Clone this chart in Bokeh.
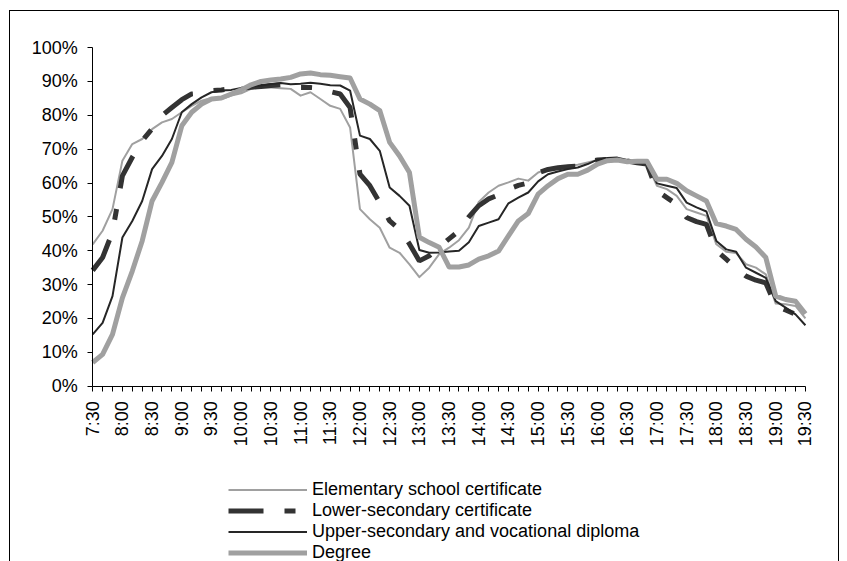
import math
from bokeh.plotting import figure
from bokeh.models import FixedTicker, PrintfTickFormatter, Legend, LegendItem, Range1d
from bokeh.embed import file_html
from bokeh.resources import INLINE

# time slots every 10 minutes from 7:30 to 19:30
slots = [f"{7 + (30 + 10 * i) // 60}:{(30 + 10 * i) % 60:02d}" for i in range(73)]
tick_labels = ["7:30", "8:00", "8:30", "9:00", "9:30", "10:00", "10:30", "11:00", "11:30",
               "12:00", "12:30", "13:00", "13:30", "14:00", "14:30", "15:00", "15:30",
               "16:00", "16:30", "17:00", "17:30", "18:00", "18:30", "19:00", "19:30"]

elementary = [41.9, 45.9, 52.3, 66.6, 71.5, 73.0, 75.9, 77.9, 78.9, 80.9, 82.8, 84.3, 85.1, 84.8,
              85.8, 86.5, 87.8, 88.3, 88.2, 88.0, 87.8, 85.8, 86.8, 84.8, 82.8, 81.9, 76.4, 52.3,
              49.3, 46.8, 40.9, 39.4, 36.0, 32.2, 35.0, 39.0, 40.9, 43.1, 46.8, 54.4, 57.2, 59.2,
              60.2, 61.3, 60.7, 63.1, 64.1, 64.6, 65.1, 65.4, 66.1, 66.8, 67.3, 67.3, 66.4, 66.0,
              65.6, 59.2, 58.2, 56.2, 52.3, 51.3, 50.3, 41.9, 39.7, 39.3, 36.0, 35.0, 33.0, 24.4,
              24.2, 23.7, 20.0]
lower_secondary = [34.2, 38.0, 45.5, 62.1, 67.6, 72.5, 76.0, 79.9, 82.3, 84.6, 86.3, 86.5, 87.3,
                   87.5, 87.8, 88.0, 88.3, 88.5, 88.8, 89.0, 88.8, 88.2, 88.2, 88.0, 87.0, 86.3,
                   82.3, 62.6, 59.2, 54.2, 48.8, 46.3, 42.0, 37.0, 38.5, 41.0, 43.5, 45.9, 50.0,
                   53.3, 55.3, 56.5, 58.2, 59.3, 60.0, 63.0, 64.0, 64.5, 64.8, 65.0, 66.3, 66.8,
                   67.0, 67.0, 66.5, 66.0, 65.6, 57.7, 55.7, 53.7, 49.8, 48.6, 47.8, 40.1, 37.5,
                   34.8, 32.5, 31.3, 30.5, 23.7, 22.5, 21.2, 18.0]
upper_secondary = [15.3, 18.7, 26.6, 43.9, 48.8, 54.7, 64.1, 68.0, 73.0, 80.9, 83.3, 85.3, 86.8,
                   87.3, 87.5, 88.1, 88.5, 88.8, 89.2, 89.5, 89.2, 89.3, 89.6, 89.3, 88.9, 88.8,
                   87.3, 74.0, 73.0, 69.5, 58.7, 56.2, 53.3, 40.2, 39.4, 39.5, 39.8, 40.0, 42.5,
                   47.3, 48.3, 49.3, 54.0, 55.7, 57.2, 60.5, 62.6, 63.4, 64.1, 64.6, 65.6, 66.9,
                   67.4, 67.5, 66.8, 66.2, 65.8, 59.9, 59.2, 58.5, 54.2, 52.8, 51.6, 42.9, 40.4,
                   39.7, 35.0, 33.5, 32.0, 25.1, 23.2, 21.2, 18.0]
degree = [7.0, 9.4, 15.3, 26.1, 34.0, 42.9, 54.7, 60.2, 66.1, 76.9, 80.9, 83.3, 84.8, 85.1, 86.3,
          87.5, 89.0, 90.0, 90.4, 90.7, 91.2, 92.2, 92.5, 92.0, 91.8, 91.4, 91.0, 84.8, 83.3, 81.4,
          72.0, 68.0, 63.1, 44.0, 42.4, 41.0, 35.2, 35.2, 35.8, 37.5, 38.5, 39.9, 44.4, 48.8, 51.0,
          56.7, 59.2, 61.3, 62.6, 62.6, 63.8, 65.6, 66.6, 66.8, 66.3, 66.4, 66.4, 61.1, 61.1, 59.9,
          57.7, 56.2, 54.7, 48.0, 47.3, 46.3, 43.4, 41.1, 38.0, 26.6, 25.6, 25.1, 21.4]

names = ["Elementary school certificate", "Lower-secondary certificate",
         "Upper-secondary and vocational diploma", "Degree"]

x = list(range(len(slots)))
FONT = "Liberation Sans"

# the frame covers the whole canvas; both axes are pinned at 0
p = figure(width=830, height=551, output_backend="svg", toolbar_location=None,
           x_range=Range1d(-8.304, 75.544), y_range=Range1d(-52.07, 110.65),
           min_border_left=0, min_border_right=0, min_border_top=0, min_border_bottom=0,
           styles={"margin-left": "9px", "margin-top": "10px",
                   "border-top": "1px solid black", "border-left": "1px solid black",
                   "border-right": "1px solid black"})
p.outline_line_color = None
p.xgrid.visible = False
p.ygrid.visible = False
p.background_fill_color = "white"
p.border_fill_color = "white"

r1 = p.line(x, elementary, line_color="#a0a0a0", line_width=2, line_join="round")
r2 = p.line(x, lower_secondary, line_color="#333333", line_width=5, line_dash="35 21 11 21")
r3 = p.line(x, upper_secondary, line_color="#262626", line_width=2, line_join="round")
r4 = p.line(x, degree, line_color="#a0a0a0", line_width=5, line_join="round")

# x axis
p.xaxis.fixed_location = 0
p.xaxis.bounds = (0, len(slots) - 1)
p.xaxis.ticker = FixedTicker(ticks=x)
overrides = {}
for i in x:
    overrides[i] = tick_labels[i // 3] if i % 3 == 0 else ""
p.xaxis.major_label_overrides = overrides
p.xaxis.major_label_orientation = math.pi / 2
p.xaxis.minor_tick_line_color = None
p.xaxis.major_tick_in = 0
p.xaxis.major_tick_out = 5
p.xaxis.major_label_standoff = 10
p.xaxis.axis_line_color = "black"
p.xaxis.major_tick_line_color = "black"

# y axis
p.yaxis.fixed_location = 0
p.yaxis.bounds = (0, 100)
p.yaxis.ticker = FixedTicker(ticks=list(range(0, 101, 10)))
p.yaxis.formatter = PrintfTickFormatter(format="%d%%")
p.yaxis.minor_tick_line_color = None
p.yaxis.major_tick_in = 0
p.yaxis.major_tick_out = 5
p.yaxis.major_label_standoff = 10
p.yaxis.axis_line_color = "black"
p.yaxis.major_tick_line_color = "black"

for ax in (p.xaxis, p.yaxis):
    ax.major_label_text_font = FONT
    ax.major_label_text_font_size = "18px"
    ax.major_label_text_color = "black"

legend = Legend(items=[LegendItem(label=n, renderers=[r]) for n, r in zip(names, [r1, r2, r3, r4])],
                location=(218, -1), padding=0, margin=0, spacing=0,
                glyph_width=79, glyph_height=19, label_height=19, label_standoff=5,
                label_text_font=FONT, label_text_font_size="18px", label_text_color="black",
                label_text_line_height=1.0,
                border_line_color=None, background_fill_alpha=0)
p.add_layout(legend, "center")

open("out.html", "w").write(file_html(p, INLINE))
